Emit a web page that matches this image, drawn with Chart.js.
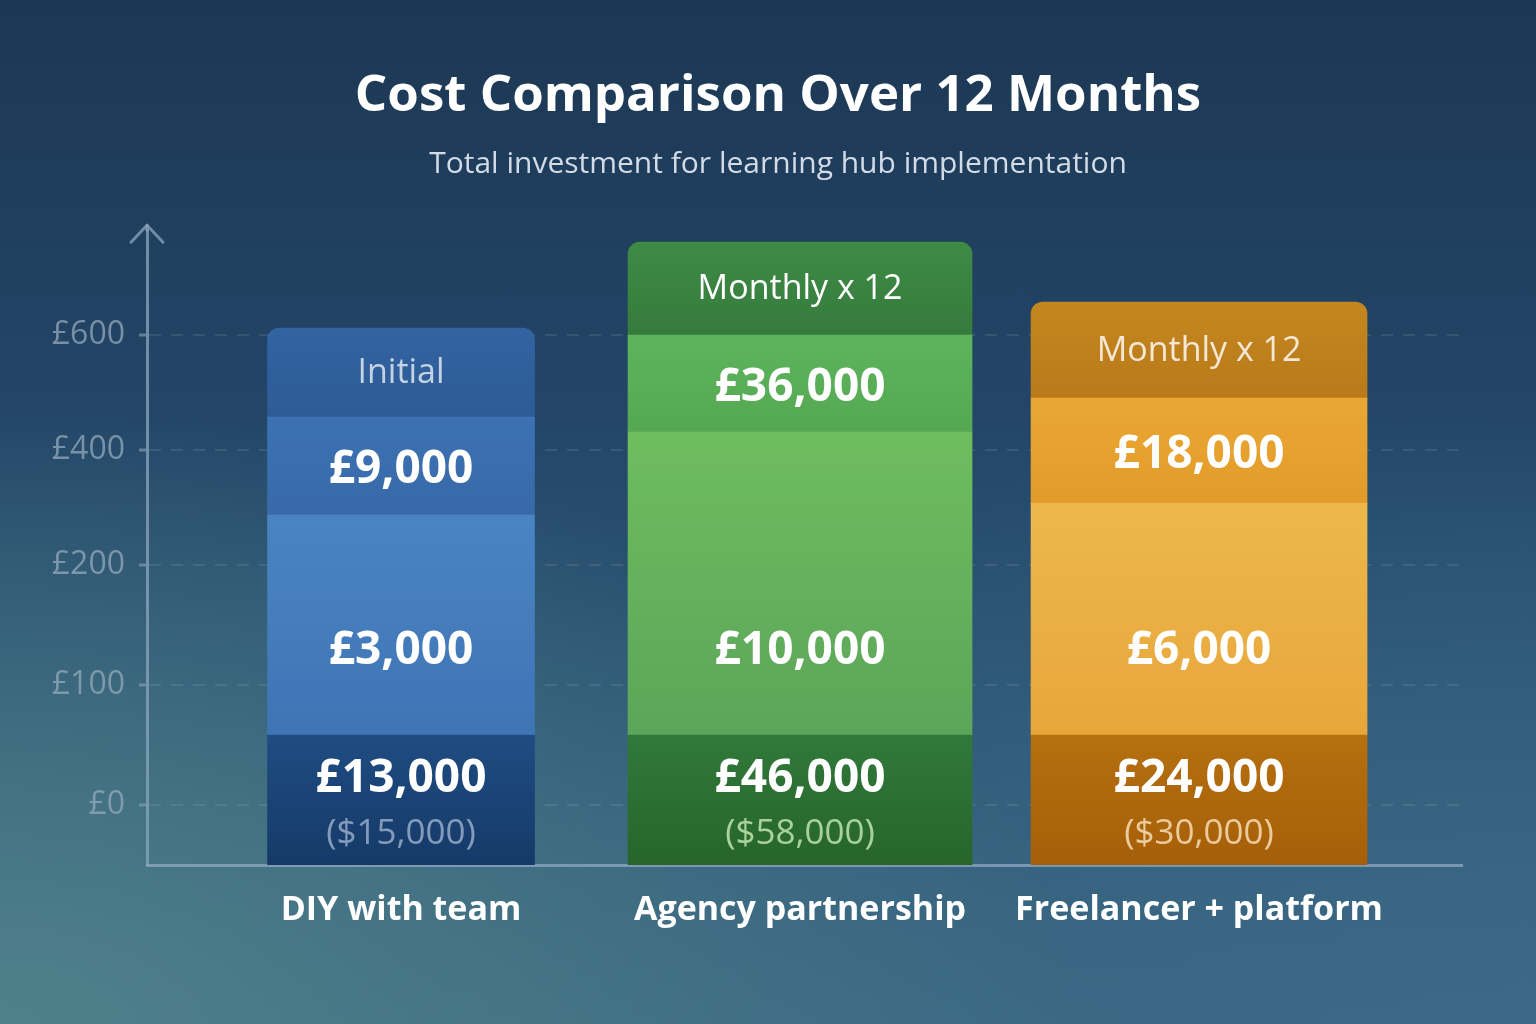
<!DOCTYPE html>
<html><head><meta charset="utf-8">
<script src="https://cdn.jsdelivr.net/npm/chart.js@4.4.1/dist/chart.umd.min.js"></script>
<style>
html,body{margin:0;padding:0;width:1536px;height:1024px;overflow:hidden;}
body{background:
 radial-gradient(ellipse 70% 60% at 0% 100%, rgba(80,130,138,0.95) 0%, rgba(80,130,138,0) 100%),
 radial-gradient(ellipse 70% 60% at 100% 100%, rgba(60,105,135,0.8) 0%, rgba(60,105,135,0) 100%),
 linear-gradient(180deg,#1c3753 0%,#234668 40%,#2f5a78 75%,#3a6882 100%);}
#wrap{position:relative;width:1536px;height:1024px}
</style></head><body><div id="wrap"><canvas id="c"></canvas></div>
<script>
// ---- data ----
const categories = ['DIY with team','Agency partnership','Freelancer + platform'];
// visual heights of stacked segments (axis units), bottom -> top
const baseHeights   = [130,130,130];
const middleHeights = [220,303,232];
const upperHeights  = [98,97,105];
const headerHeights = [89,93,96];
const baseLabels    = ['£13,000','£46,000','£24,000'];
const baseUsdLabels = ['($15,000)','($58,000)','($30,000)'];
const middleLabels  = ['£3,000','£10,000','£6,000'];
const upperLabels   = ['£9,000','£36,000','£18,000'];
const headerLabels  = ['Initial','Monthly x 12','Monthly x 12'];
const yTickValues   = [60,180,300,415,530];
const yTickLabels   = ['£0','£100','£200','£400','£600'];

// ---- styles ----
const barWidths = [267,344,336];
const segColors = [ // [base, middle, upper, header] each [top,bottom]
 [['#1f4c82','#153a68'],['#4a84c3','#3f74b5'],['#3c72b3','#3869a8'],['#3264a2','#2d5b95']],
 [['#30793a','#276529'],['#6ebd5e','#5ca55a'],['#5db45b','#55a853'],['#3e8b46','#367b3c']],
 [['#b5700f','#a65f08'],['#ecb84c','#e8a63a'],['#eaa733','#e29b29'],['#c4871f','#b97a1a']]
];
const subColors = ['rgba(200,212,232,0.62)','#a9d29b','#ebcb9d'];
const headerColors = ['#c5d2e3','#ffffff','#f4e8d4'];
const FONT = "'Open Sans', 'Noto Sans', sans-serif";

const segHeights = [baseHeights, middleHeights, upperHeights, headerHeights];
const datasets = [];
categories.forEach((cat, c) => {
  segHeights.forEach((arr, s) => {
    datasets.push({
      label: cat + ' ' + s,
      data: [{x: c + 1, y: arr[c]}],
      stack: 'cost',
      barThickness: barWidths[c],
      borderRadius: s === 3 ? {topLeft: 12, topRight: 12, bottomLeft: 0, bottomRight: 0} : 0,
      borderSkipped: 'start',
      _cat: c, _seg: s,
      backgroundColor: (ctx) => {
        const chart = ctx.chart;
        const cols = segColors[c][s];
        if (!chart.chartArea || !chart.scales.y) return cols[0];
        let lo = 0; for (let k = 0; k < s; k++) lo += segHeights[k][c];
        const hi = lo + arr[c];
        const y0 = chart.scales.y.getPixelForValue(hi), y1 = chart.scales.y.getPixelForValue(lo);
        if (!isFinite(y0) || !isFinite(y1) || y0 === y1) return cols[0];
        const g = chart.ctx.createLinearGradient(0, y0, 0, y1);
        g.addColorStop(0, cols[0]); g.addColorStop(1, cols[1]);
        return g;
      }
    });
  });
});

const barLabels = {
  id: 'barLabels',
  afterDatasetsDraw(chart) {
    const ctx = chart.ctx;
    ctx.save();
    ctx.textAlign = 'center'; ctx.textBaseline = 'middle';
    chart.data.datasets.forEach((ds, i) => {
      const el = chart.getDatasetMeta(i).data[0];
      if (!el) return;
      const c = ds._cat, s = ds._seg;
      const top = el.y, bot = el.base, x = el.x;
      if (s === 0) {
        ctx.fillStyle = '#ffffff'; ctx.font = 'bold 46px ' + FONT;
        ctx.fillText(baseLabels[c], x, top + 44);
        ctx.fillStyle = subColors[c]; ctx.font = '35px ' + FONT;
        ctx.fillText(baseUsdLabels[c], x, top + 99);
      } else if (s === 1) {
        ctx.fillStyle = '#ffffff'; ctx.font = 'bold 46px ' + FONT;
        ctx.fillText(middleLabels[c], x, bot - 84);
      } else if (s === 2) {
        ctx.fillStyle = '#ffffff'; ctx.font = 'bold 46px ' + FONT;
        ctx.fillText(upperLabels[c], x, (top + bot) / 2 + 4);
      } else {
        ctx.fillStyle = headerColors[c]; ctx.font = '34px ' + FONT;
        ctx.fillText(headerLabels[c], x, (top + bot) / 2 + 1);
      }
    });
    ctx.restore();
  }
};

const axisArrow = {
  id: 'axisArrow',
  afterDraw(chart) {
    const {ctx, chartArea: {left, top}} = chart;
    ctx.save();
    ctx.strokeStyle = 'rgba(140,165,190,0.75)';
    ctx.lineWidth = 3; ctx.lineCap = 'round'; ctx.lineJoin = 'round';
    ctx.beginPath();
    ctx.moveTo(left, top); ctx.lineTo(left, top - 5); ctx.stroke();
    ctx.beginPath();
    ctx.moveTo(left - 16, top + 12); ctx.lineTo(left, top - 5); ctx.lineTo(left + 16, top + 12);
    ctx.stroke();
    ctx.restore();
  }
};

new Chart(document.getElementById('c'), {
  type: 'bar',
  data: {datasets},
  plugins: [barLabels, axisArrow],
  options: {
    responsive: true, maintainAspectRatio: false, animation: false,
    layout: {padding: {left: 20, right: 0, top: 0, bottom: 0}},
    plugins: {
      legend: {display: false}, tooltip: {enabled: false},
      title: {display: true, text: 'Cost Comparison Over 12 Months', color: '#ffffff',
        font: {family: FONT, size: 51, weight: 'bold'}, padding: {top: 66, bottom: 0}},
      subtitle: {display: true, text: 'Total investment for learning hub implementation', color: '#d3dce6',
        font: {family: FONT, size: 30, weight: 'normal'}, padding: {top: 19, bottom: 48}}
    },
    scales: {
      x: {
        type: 'linear', min: 0.3634, max: 3.659, z: 1, stacked: true, offset: false,
        afterBuildTicks: (sc) => { sc.ticks = categories.map((_, i) => ({value: i + 1})); },
        afterFit: (sc) => { sc.height = 159; },
        ticks: {autoSkip: false, maxRotation: 0, padding: 25, color: '#ffffff',
          font: {family: FONT, size: 34, weight: 'bold'},
          callback: (v) => categories[Math.round(v) - 1] || ''},
        grid: {display: false, drawTicks: false, offset: false},
        border: {display: true, color: 'rgba(150,172,200,0.7)', width: 3}
      },
      y: {
        stacked: true, min: 0, max: 635,
        afterBuildTicks: (sc) => { sc.ticks = yTickValues.map(v => ({value: v})); },
        afterFit: (sc) => { sc.width = 127; },
        ticks: {padding: 14, color: 'rgba(150,170,188,0.75)', font: {family: FONT, size: 32},
          callback: (v) => yTickLabels[yTickValues.indexOf(v)] ?? ''},
        grid: {color: 'rgba(180,200,220,0.14)', lineWidth: 2, tickLength: 8,
          tickColor: 'rgba(140,165,190,0.6)', tickWidth: 3},
        border: {display: true, color: 'rgba(140,165,190,0.75)', width: 3, dash: [12, 10]}
      },
      rightGap: {
        type: 'linear', position: 'right', display: true,
        afterFit: (sc) => { sc.width = 74; },
        ticks: {display: false}, grid: {display: false, drawTicks: false}, border: {display: false}
      }
    }
  }
});
</script></body></html>
